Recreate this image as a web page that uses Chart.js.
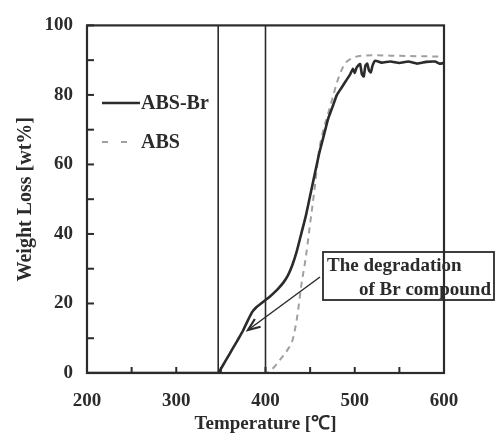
<!DOCTYPE html>
<html><head><meta charset="utf-8">
<script src="https://cdn.jsdelivr.net/npm/chart.js@4/dist/chart.umd.min.js"></script>
<style>html,body{margin:0;padding:0;background:#fff}</style>
</head><body>
<canvas id="c" width="495" height="438"></canvas>
<script>
// ---- data ----
const brTemps = [200, 347, 350, 355, 360, 365, 370, 375, 380, 385, 390, 395, 400, 405, 410, 415, 420, 425, 430, 435, 440, 445, 450, 455, 460, 465, 470, 475, 480, 485, 490, 495, 498, 500, 502, 504, 506, 508, 510, 512, 514, 516, 518, 520, 523, 530, 540, 550, 560, 570, 580, 590, 595, 600];
const brLoss  = [0, 0, 1.2, 3.4, 5.6, 7.8, 10, 12.3, 15, 17.5, 19, 20, 21, 22, 23.2, 24.5, 26, 28, 31, 35, 40, 45, 51, 57, 63, 68, 73, 76.5, 80, 82, 84, 86, 87.5, 86.3, 87.8, 88.5, 88.9, 86, 85.3, 88.5, 89, 87, 86.5, 88.5, 89.8, 89.3, 89.6, 89.2, 89.6, 89, 89.5, 89.6, 89, 89.2];
const absTemps = [200, 400, 405, 410, 415, 420, 425, 430, 433, 436, 440, 445, 450, 455, 460, 465, 470, 475, 480, 485, 490, 495, 500, 510, 520, 540, 560, 580, 600];
const absLoss  = [0, 0, 0.6, 1.8, 3.4, 5, 6.8, 9.2, 12.5, 17, 25, 33, 43, 53, 64, 70, 74.5, 79, 83.5, 87, 89.3, 90.3, 90.9, 91.3, 91.4, 91.3, 91.2, 91.1, 91];
const seriesNames = ['ABS-Br', 'ABS'];
const markerLines = [347, 400];
const xTitle = 'Temperature [\u2103]';
const yTitle = 'Weight Loss [wt%]';
const noteLines = ['The degradation', 'of Br compound'];

const FONT = 'Liberation Serif';
const INK = '#2b2b2b';
const GRAY = '#a0a0a0';

function pts(xs, ys) { return xs.map((x, i) => ({x: x, y: ys[i]})); }

const deco = {
  id: 'deco',
  beforeDatasetsDraw(chart) {
    const {ctx, chartArea: a, scales: {x, y}} = chart;
    ctx.save();
    ctx.strokeStyle = INK;
    ctx.lineWidth = 1.6;
    markerLines.forEach(v => {
      const px = x.getPixelForValue(v);
      ctx.beginPath(); ctx.moveTo(px, a.top); ctx.lineTo(px, a.bottom); ctx.stroke();
    });
    ctx.restore();
  },
  afterDatasetsDraw(chart) {
    const {ctx, chartArea: a, scales: {x, y}} = chart;
    ctx.save();
    // frame
    ctx.strokeStyle = INK; ctx.lineWidth = 2.2;
    ctx.strokeRect(a.left, a.top, a.right - a.left, a.bottom - a.top);
    // inward ticks
    ctx.lineWidth = 2;
    y.ticks.forEach(t => {
      const py = y.getPixelForValue(t.value);
      ctx.beginPath(); ctx.moveTo(a.left, py); ctx.lineTo(a.left + 7, py); ctx.stroke();
    });
    x.ticks.forEach(t => {
      const px = x.getPixelForValue(t.value);
      ctx.beginPath(); ctx.moveTo(px, a.bottom); ctx.lineTo(px, a.bottom - 6); ctx.stroke();
    });
    // legend
    const ds = chart.data.datasets;
    const legY = [103, 142];
    ctx.font = 'bold 20px "' + FONT + '"';
    ctx.textBaseline = 'middle';
    ds.forEach((d, i) => {
      ctx.strokeStyle = d.borderColor;
      ctx.lineWidth = d.borderWidth;
      ctx.setLineDash(i === 0 ? [] : [6, 13]);
      ctx.beginPath(); ctx.moveTo(102, legY[i]); ctx.lineTo(i === 0 ? 140 : 132, legY[i]); ctx.stroke();
      ctx.setLineDash([]);
      ctx.fillStyle = INK;
      ctx.textAlign = 'left';
      ctx.fillText(d.label, 141, legY[i] + 1);
    });
    // annotation box
    ctx.strokeStyle = INK; ctx.lineWidth = 1.8;
    ctx.strokeRect(323, 252, 171, 48);
    ctx.fillStyle = INK;
    ctx.font = 'bold 19px "' + FONT + '"';
    ctx.textAlign = 'left';
    ctx.fillText(noteLines[0], 327, 266);
    ctx.fillText(noteLines[1], 359, 290);
    // arrow
    const x1 = 320, y1 = 277, x2 = 248, y2 = 330;
    ctx.lineWidth = 1.5;
    ctx.beginPath(); ctx.moveTo(x1, y1); ctx.lineTo(x2, y2); ctx.stroke();
    const ang = Math.atan2(y2 - y1, x2 - x1), L = 13, W = 0.38;
    ctx.beginPath();
    ctx.moveTo(x2 - L * Math.cos(ang - W), y2 - L * Math.sin(ang - W));
    ctx.lineTo(x2, y2);
    ctx.lineTo(x2 - L * Math.cos(ang + W), y2 - L * Math.sin(ang + W));
    ctx.lineWidth = 2.2;
    ctx.stroke();
    // axis titles
    ctx.font = 'bold 19px "' + FONT + '"';
    ctx.textAlign = 'center'; ctx.textBaseline = 'middle';
    ctx.fillText(xTitle, (a.left + a.right) / 2, 424);
    ctx.font = 'bold 20px "' + FONT + '"';
    ctx.translate(26, (a.top + a.bottom) / 2);
    ctx.rotate(-Math.PI / 2);
    ctx.fillText(yTitle, 0, 0);
    ctx.restore();
  }
};

new Chart(document.getElementById('c'), {
  type: 'line',
  data: {
    datasets: [
      {label: seriesNames[0], data: pts(brTemps, brLoss), borderColor: INK, borderWidth: 2.6, pointRadius: 0, tension: 0.15, fill: false},
      {label: seriesNames[1], data: pts(absTemps, absLoss), borderColor: GRAY, borderWidth: 2, borderDash: [6, 5], pointRadius: 0, cubicInterpolationMode: 'monotone', fill: false}
    ]
  },
  options: {
    responsive: false,
    animation: false,
    layout: {padding: {left: 0, right: 51, top: 17, bottom: 0}},
    plugins: {legend: {display: false}, tooltip: {enabled: false}},
    scales: {
      x: {
        type: 'linear', min: 200, max: 600,
        afterFit(s) { s.height = 65; },
        grid: {display: true, drawOnChartArea: false, drawTicks: false},
        border: {display: false},
        ticks: {stepSize: 50, autoSkip: false, maxRotation: 0, padding: 17, color: INK,
          font: {family: FONT, size: 19, weight: 'bold'},
          callback: v => (v % 100 === 0 ? v : '')}
      },
      y: {
        min: 0, max: 100,
        afterFit(s) { s.width = 87; },
        grid: {display: true, drawOnChartArea: false, drawTicks: false},
        border: {display: false},
        ticks: {stepSize: 10, autoSkip: false, padding: 14, color: INK,
          font: {family: FONT, size: 19, weight: 'bold'},
          callback: v => (v % 20 === 0 ? v : '')}
      }
    }
  },
  plugins: [deco]
});
</script>
</body></html>
